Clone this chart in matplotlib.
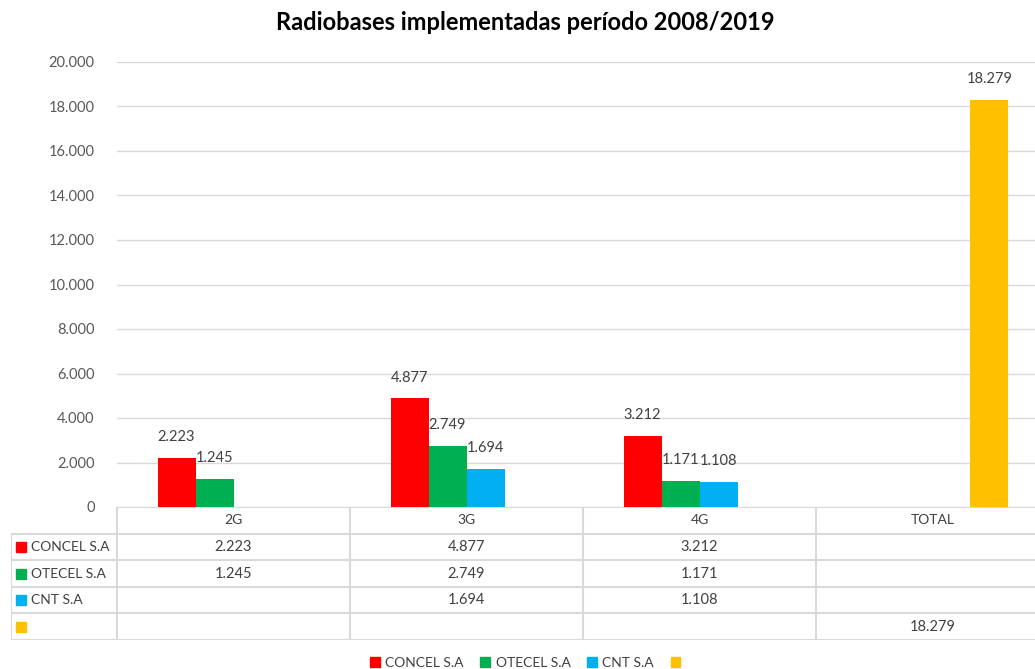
import numpy as np
import matplotlib
matplotlib.use("Agg")
import matplotlib.pyplot as plt
from matplotlib.ticker import FuncFormatter
from matplotlib.patches import Patch

plt.rcParams['font.family'] = ['Lato', 'DejaVu Sans']

categories = ['2G', '3G', '4G', 'TOTAL']
series_names = ['CONCEL S.A', 'OTECEL S.A', 'CNT S.A', '']
concel = [2223, 4877, 3212, np.nan]
otecel = [1245, 2749, 1171, np.nan]
cnt = [np.nan, 1694, 1108, np.nan]
total = [np.nan, np.nan, np.nan, 18279]
colors = ['#FF0000', '#00B050', '#00B0F0', '#FFC000']

series = [concel, otecel, cnt, total]

W, H = 1035, 669
fig = plt.figure(figsize=(W / 100, H / 100), dpi=100)

# plot area in pixels (right edge runs past the image like in the original)
L, R, T, B = 117, 1049, 62, 507
ax = fig.add_axes([L / W, 1 - B / H, (R - L) / W, (B - T) / H])

def fmt(v):
    return f"{int(v):,}".replace(",", ".")

num_fs = 10.5
lab_fs = 10
x = np.arange(len(categories))
bw = 38 / 233
text_col = '#404040'
for i, (vals, c) in enumerate(zip(series, colors)):
    pos = x + (i - 1.5) * bw
    ax.bar(pos, np.nan_to_num(vals), width=bw, color=c, zorder=3)
    for p, v in zip(pos, vals):
        if not np.isnan(v):
            ax.annotate(fmt(v), (p, v), xytext=(0, 10), textcoords='offset points',
                        ha='center', va='bottom', fontsize=num_fs, color=text_col)

ax.set_xlim(-0.5, 3.5)
ax.set_ylim(0, 20000)
ax.set_yticks(np.arange(0, 20001, 2000))
ax.yaxis.set_major_formatter(FuncFormatter(lambda v, _: fmt(v)))
ax.tick_params(axis='y', length=0, pad=16, labelsize=num_fs, labelcolor='#595959')
ax.set_xticks([])
ax.grid(axis='y', color='#D9D9D9', linewidth=1, zorder=0)
for s in ax.spines.values():
    s.set_visible(False)

fig.text(525 / W, 1 - 22 / H, 'Radiobases implementadas período 2008/2019',
         ha='center', va='center', fontsize=17, fontweight='bold', color='black')

# data table below the plot
TL, TB = 11, 640
tab = fig.add_axes([TL / W, 1 - TB / H, (R - TL) / W, (TB - B) / H])
left = -0.5 - (L - TL) / 233
tab.set_xlim(left, 3.5)
tab.set_ylim(0, 5)
tab.axis('off')
lc = '#D9D9D9'
tab.hlines(5, -0.5, 3.5, color=lc, lw=1.5)
tab.hlines([0, 1, 2, 3, 4], left, 3.5, color=lc, lw=1.5)
tab.vlines(x - 0.5, 0, 5, color=lc, lw=1.5)
tab.vlines(left, 0, 4, color=lc, lw=1.5)

for j, cat in enumerate(categories):
    tab.text(j, 4.5, cat, ha='center', va='center', fontsize=lab_fs, color=text_col)
for i, (name, vals, c) in enumerate(zip(series_names, series, colors)):
    yc = 3.5 - i
    tab.plot(left + 10 / 233, yc, marker='s', ms=6.5, color=c, clip_on=False)
    tab.text(left + 20 / 233, yc, name, ha='left', va='center', fontsize=lab_fs, color=text_col)
    for j, v in enumerate(vals):
        if not np.isnan(v):
            tab.text(j, yc, fmt(v), ha='center', va='center', fontsize=num_fs, color=text_col)

handles = [Patch(color=c) for c in colors]
fig.legend(handles, series_names, loc='center', bbox_to_anchor=(528 / W, 1 - 663 / H),
           ncol=4, frameon=False, fontsize=lab_fs, handlelength=0.7, handleheight=0.7,
           handletextpad=0.4, columnspacing=1.2, labelcolor=text_col)

fig.savefig('out.png', dpi=100)
